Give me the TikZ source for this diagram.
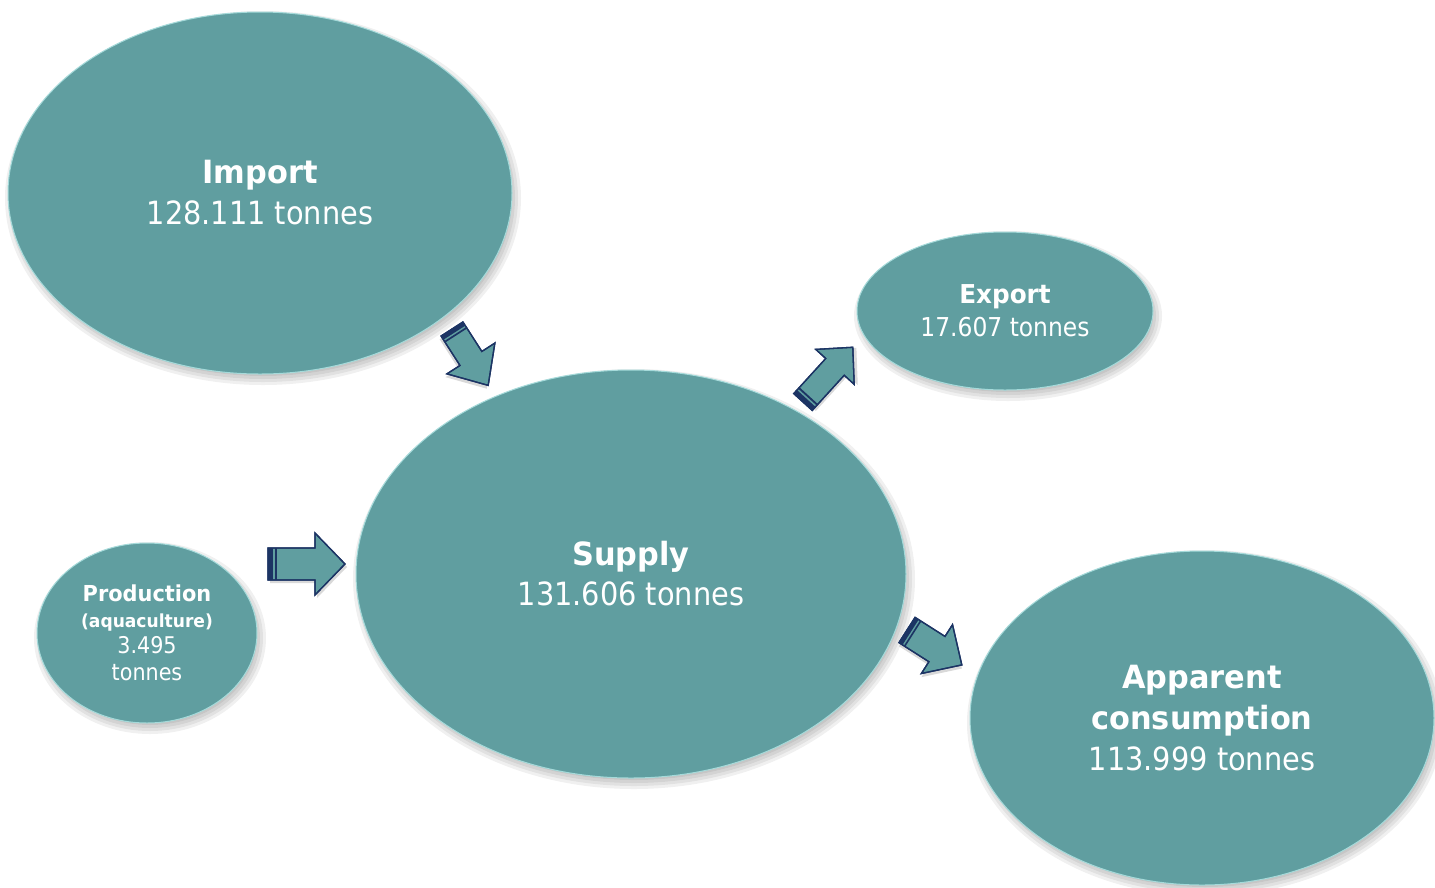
\documentclass[tikz,border=0pt]{standalone}
\usepackage{fontspec}
\setmainfont{DejaVu Sans}[FakeStretch=0.9, BoldFeatures={FakeStretch=0.95}]
\usetikzlibrary{shapes.geometric}
\definecolor{tealfill}{RGB}{96,158,160}
\definecolor{rimcol}{RGB}{165,218,218}
\definecolor{navycol}{RGB}{28,52,100}
\tikzset{
  bub/.style={ellipse, fill=tealfill, draw=rimcol, line width=1pt, inner sep=0pt, text=white, align=center},
  arrfill/.style={fill=tealfill, draw=navycol, line width=1.3pt, line join=miter},
}
% #1 x, #2 y, #3 angle, #4 L, #5 w, #6 h, #7 hl
\newcommand{\blockarr}[7]{%
  \begin{scope}[shift={(#1,#2)}, rotate=#3]
    \fill[black, opacity=0.15] (2,3) -- ({#4-#7+2},{-#5+3}) -- ({#4-#7+2},{-#6+3}) -- ({#4+2},3) -- ({#4-#7+2},{#6+3}) -- ({#4-#7+2},{#5+3}) -- (2,{#5+3}) -- cycle;
    \path[arrfill] (0,-#5) -- ({#4-#7},-#5) -- ({#4-#7},-#6) -- (#4,0) -- ({#4-#7},#6) -- ({#4-#7},#5) -- (0,#5) -- cycle;
    \fill[navycol] (0,-#5) rectangle ({0.065*#4},#5);
    \fill[navycol] ({0.09*#4},-#5) rectangle ({0.115*#4},#5);
    \draw[navycol, line width=1.3pt, line join=miter] (0,-#5) -- ({#4-#7},-#5) -- ({#4-#7},-#6) -- (#4,0) -- ({#4-#7},#6) -- ({#4-#7},#5) -- (0,#5) -- cycle;
  \end{scope}}
% #1 cx, #2 cy, #3 rx, #4 ry
\newcommand{\softshadow}[4]{%
  \foreach \s in {-3,0,3,6}{%
    \fill[black, opacity=0.06] ({#1+3},{#2+5}) ellipse [x radius={(#3+\s)*1pt}, y radius={(#4+\s)*1pt}];}}
\begin{document}
\begin{tikzpicture}[x=1pt,y=-1pt]
\useasboundingbox (0,0) rectangle (1435,887);
\fill[white] (0,0) rectangle (1435,887);

% shadows
\softshadow{260}{193}{252}{181}
\softshadow{1005}{311}{148}{79}
\softshadow{631}{574}{275}{204}
\softshadow{147}{633}{110}{90}
\softshadow{1202}{718}{232}{167}

% bubbles
\node[bub, minimum width=504pt, minimum height=362pt, font=\fontsize{32}{41}\selectfont] (import) at (260,193)
  {{\bfseries Import}\\128.111 tonnes};
\node[bub, minimum width=296pt, minimum height=158pt, font=\fontsize{26}{33}\selectfont] (export) at (1005,311)
  {{\bfseries Export}\\17.607 tonnes};
\node[bub, minimum width=550pt, minimum height=408pt, font=\fontsize{32}{40}\selectfont] (supply) at (631,574)
  {{\bfseries Supply}\\131.606 tonnes};
\node[bub, minimum width=220pt, minimum height=180pt, font=\fontsize{23}{26}\selectfont] (prod) at (147,633)
  {{\fontsize{22}{26}\selectfont\bfseries Production}\\{\fontsize{18}{26}\selectfont\bfseries (aquaculture)}\\3.495\\[1pt]tonnes};
\node[bub, minimum width=464pt, minimum height=334pt, font=\fontsize{32}{41}\selectfont] (app) at (1202,718)
  {{\bfseries Apparent}\\{\bfseries consumption}\\113.999 tonnes};

% block arrows
\blockarr{452}{329}{-57.3}{67}{13}{28.5}{32}
\blockarr{268}{564}{0}{77}{16}{31}{30}
\blockarr{803}{402}{47.7}{74}{12.5}{26}{26.5}
\blockarr{907}{630}{-32.5}{65}{15}{29}{29.5}
\end{tikzpicture}
\end{document}
